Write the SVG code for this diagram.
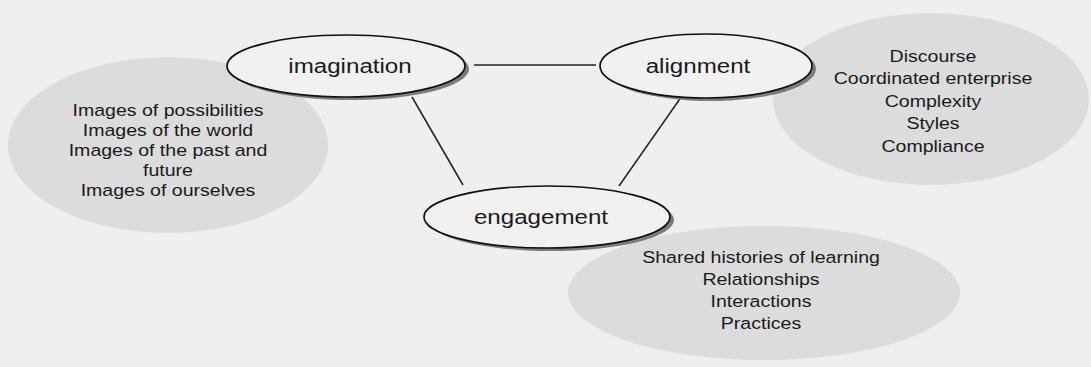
<svg xmlns="http://www.w3.org/2000/svg" width="1091" height="367" viewBox="0 0 1091 367">
<defs>
<style>
.bg{fill:#efefef}
.blob{fill:#dcdcdc}
.node{fill:#f1f1f1;stroke:#111;stroke-width:1.7}
.shadow{fill:#7c7c7c}
.conn{stroke:#222;stroke-width:1.5;fill:none}
.lbl{font-family:"Liberation Sans",Arial,sans-serif;font-size:21px;fill:#1a1a1a;text-anchor:middle}
.txt{font-family:"Liberation Sans",Arial,sans-serif;font-size:17px;fill:#1a1a1a;text-anchor:middle}
</style>
</defs>
<rect class="bg" x="0" y="0" width="1091" height="367"/>
<g id="blob-imagination">
<ellipse class="blob" cx="168" cy="145" rx="160" ry="88"/>
<g transform="translate(168,0) scale(1.15,1)">
<text class="txt" x="0" y="116">Images of possibilities</text>
<text class="txt" x="0" y="136">Images of the world</text>
<text class="txt" x="0" y="156">Images of the past and</text>
<text class="txt" x="0" y="176">future</text>
<text class="txt" x="0" y="196">Images of ourselves</text>
</g>
</g>
<g id="blob-alignment">
<ellipse class="blob" cx="931" cy="99" rx="158" ry="86"/>
<g transform="translate(933,0) scale(1.15,1)">
<text class="txt" x="0" y="62">Discourse</text>
<text class="txt" x="0" y="84">Coordinated enterprise</text>
<text class="txt" x="0" y="107">Complexity</text>
<text class="txt" x="0" y="129">Styles</text>
<text class="txt" x="0" y="152">Compliance</text>
</g>
</g>
<g id="blob-engagement">
<ellipse class="blob" cx="764" cy="293" rx="196" ry="67"/>
<g transform="translate(761,0) scale(1.15,1)">
<text class="txt" x="0" y="263">Shared histories of learning</text>
<text class="txt" x="0" y="285">Relationships</text>
<text class="txt" x="0" y="307">Interactions</text>
<text class="txt" x="0" y="329">Practices</text>
</g>
</g>
<g id="connectors">
<line class="conn" x1="474" y1="65" x2="596" y2="65"/>
<line class="conn" x1="412" y1="97" x2="463" y2="185"/>
<line class="conn" x1="684" y1="93" x2="619" y2="186"/>
</g>
<g id="node-imagination">
<ellipse class="shadow" cx="350" cy="69" rx="119" ry="31"/>
<ellipse class="node" cx="346" cy="66" rx="119" ry="31"/>
<g transform="translate(350,0) scale(1.15,1)"><text class="lbl" x="0" y="73">imagination</text></g>
</g>
<g id="node-alignment">
<ellipse class="shadow" cx="710" cy="69" rx="106" ry="32"/>
<ellipse class="node" cx="706" cy="66" rx="106" ry="32"/>
<g transform="translate(698,0) scale(1.15,1)"><text class="lbl" x="0" y="73">alignment</text></g>
</g>
<g id="node-engagement">
<ellipse class="shadow" cx="551" cy="220" rx="123" ry="31"/>
<ellipse class="node" cx="547" cy="217" rx="123" ry="31"/>
<g transform="translate(541,0) scale(1.15,1)"><text class="lbl" x="0" y="224">engagement</text></g>
</g>
</svg>
